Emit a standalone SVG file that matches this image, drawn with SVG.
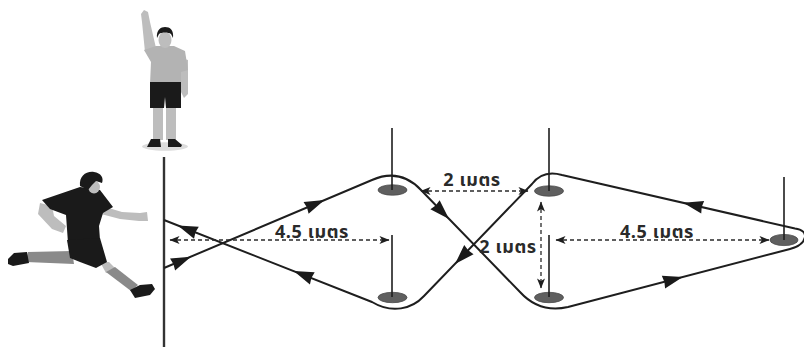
<svg xmlns="http://www.w3.org/2000/svg" xmlns:xlink="http://www.w3.org/1999/xlink" width="804" height="347" viewBox="0 0 804 347">
  <style>
    .route { fill: none; stroke: #1e1e1e; stroke-width: 2; stroke-linejoin: round; }
    .pole { stroke: #1e1e1e; stroke-width: 1.6; }
    .cone { fill: #5f5f5f; stroke: #4a4a4a; stroke-width: 0.8; }
    .dim { fill: none; stroke: #2a2a2a; stroke-width: 1.3; stroke-dasharray: 4 3; marker-start: url(#dimArrow); marker-end: url(#dimArrow); }
    .label { font-family: "Noto Sans Thai", "Noto Sans", "DejaVu Sans", sans-serif; font-size: 18px; font-weight: bold; fill: #2a2a2a; text-anchor: middle; letter-spacing: 0.6px; }
    .dark { fill: #1a1a1a; }
    .skin { fill: #bdbdbd; }
    .shirt { fill: #b3b3b3; }
    .sock { fill: #8a8a8a; }
  </style>
  <defs>
    <marker id="dimArrow" viewBox="0 0 10 8" refX="9.5" refY="4" markerWidth="11" markerHeight="8" markerUnits="userSpaceOnUse" orient="auto-start-reverse">
      <path d="M0,0 L10,4 L0,8 L2.5,4 Z" fill="#1e1e1e"/>
    </marker>
    <path id="ah" d="M0,0 L-20,-6.5 L-19,0 L-20,6.5 Z" fill="#1a1a1a"/>
  </defs>

  <rect width="804" height="347" fill="#ffffff"/>

  <!-- start line -->
  <g id="start-line">
    <line x1="164" y1="157" x2="164" y2="347" stroke="#333" stroke-width="2.4"/>
  </g>

  <!-- referee with raised arm -->
  <g id="referee">
    <ellipse cx="165" cy="146.5" rx="23" ry="4.2" fill="#dcdcdc"/>
    <rect class="skin" x="153" y="106" width="10" height="34"/>
    <rect class="skin" x="166" y="106" width="10" height="34"/>
    <path class="dark" d="M147,147 L151,139 L160,139 L161,147 Z"/>
    <path class="dark" d="M168,139 L175,139 L182,145 L181,147 L168,147 Z"/>
    <path class="skin" d="M145,52 L142,22 L141,14 L144,10 L148,12 L150,22 L156,48 Z"/>
    <path class="skin" d="M181,58 L188,60 L188,94 L184,98 L181,92 Z"/>
    <path class="shirt" d="M144,50 L156,46 L174,46 L185,51 L188,70 L181,72 L181,84 L150,84 L151,62 Z"/>
    <path class="dark" d="M150,82 L181,82 L181,108 L166,108 L165,97 L164,108 L150,108 Z"/>
    <ellipse class="skin" cx="165" cy="40" rx="6.5" ry="8"/>
    <path class="dark" d="M157,38 C156,30 161,27 165,27 C170,27 174,30 173,38 L171,34 C168,32 162,32 159,34 Z"/>
  </g>

  <!-- kicking player -->
  <g id="player">
    <path class="skin" d="M40,203 L38,214 L52,229 L63,233 L66,226 L54,216 L52,206 Z"/>
    <path class="skin" d="M102,206 L122,212 L140,213 L147,212 L148,221 L139,221 L120,219 L101,214 Z"/>
    <path class="sock" d="M72,251 L28,252 L26,262 L74,264 Z"/>
    <path class="dark" d="M8,259 L14,253 L27,252 L29,263 L13,266 L8,264 Z"/>
    <path class="skin" d="M100,262 L109,262 L115,268 L106,273 Z"/>
    <path class="sock" d="M106,272 L115,267 L138,285 L131,291 Z"/>
    <path class="dark" d="M130,290 L140,285 L152,284 L155,289 L150,295 L135,298 Z"/>
    <path class="dark" d="M42,200 L80,187 L100,190 L113,207 L103,213 L99,226 L100,240 L68,243 L66,215 L50,209 Z"/>
    <path class="dark" d="M67,240 L100,238 L107,262 L96,268 L80,262 L70,258 Z"/>
    <ellipse class="skin" cx="94" cy="187" rx="6" ry="6.5"/>
    <path class="dark" d="M80,186 C79,176 86,171 94,172 C101,173 104,178 102,183 L96,181 L92,185 L88,190 Z"/>
  </g>

  <!-- cones with poles -->
  <g id="cone-top-left">
    <ellipse class="cone" cx="392.5" cy="190" rx="14.5" ry="5.2"/>
    <line class="pole" x1="392" y1="128" x2="392" y2="190"/>
  </g>
  <g id="cone-bottom-left">
    <ellipse class="cone" cx="392.5" cy="297.5" rx="14.5" ry="5.2"/>
    <line class="pole" x1="392" y1="235" x2="392" y2="297"/>
  </g>
  <g id="cone-top-right">
    <ellipse class="cone" cx="549" cy="191" rx="14.5" ry="5.2"/>
    <line class="pole" x1="549" y1="128" x2="549" y2="191"/>
  </g>
  <g id="cone-bottom-right">
    <ellipse class="cone" cx="549" cy="297.5" rx="14.5" ry="5.2"/>
    <line class="pole" x1="549" y1="235" x2="549" y2="297"/>
  </g>
  <g id="cone-far-right">
    <ellipse class="cone" cx="784" cy="240" rx="14" ry="5.6"/>
    <line class="pole" x1="784" y1="177" x2="784" y2="240"/>
  </g>

  <!-- running route and distance markers -->
  <g id="connectors">
    <path class="route" d="M164,268 L372,180 C388,173 405,173 421,190 L520,292 C530,303 546,312 568,307 L790,249 C808,244 810,230 795,228.5 L562,175 C548,171 538,176 532,184 L424,296 C412,309 392,314 372,302 L164,220"/>
    <use xlink:href="#ah" href="#ah" transform="translate(191,256.8) rotate(-22.9)"/>
    <use xlink:href="#ah" href="#ah" transform="translate(324.5,200.1) rotate(-22.9)"/>
    <use xlink:href="#ah" href="#ah" transform="translate(449,219) rotate(45.6)"/>
    <use xlink:href="#ah" href="#ah" transform="translate(682.8,277.1) rotate(-14.6)"/>
    <use xlink:href="#ah" href="#ah" transform="translate(683.2,202.8) rotate(192.9)"/>
    <use xlink:href="#ah" href="#ah" transform="translate(455,264) rotate(134)"/>
    <use xlink:href="#ah" href="#ah" transform="translate(293.7,271) rotate(201.5)"/>
    <use xlink:href="#ah" href="#ah" transform="translate(177.8,225.4) rotate(201.5)"/>

    <line class="dim" x1="170" y1="240" x2="389" y2="240"/>
    <line class="dim" x1="421" y1="191" x2="528" y2="191"/>
    <line class="dim" x1="541" y1="202" x2="541" y2="288"/>
    <line class="dim" x1="556" y1="240" x2="769" y2="240"/>
  </g>

  <g id="labels">
    <text class="label" x="312" y="238">4.5 เมตร</text>
    <text class="label" x="472" y="186">2 เมตร</text>
    <text class="label" x="508" y="253">2 เมตร</text>
    <text class="label" x="657" y="238">4.5 เมตร</text>
  </g>
</svg>
